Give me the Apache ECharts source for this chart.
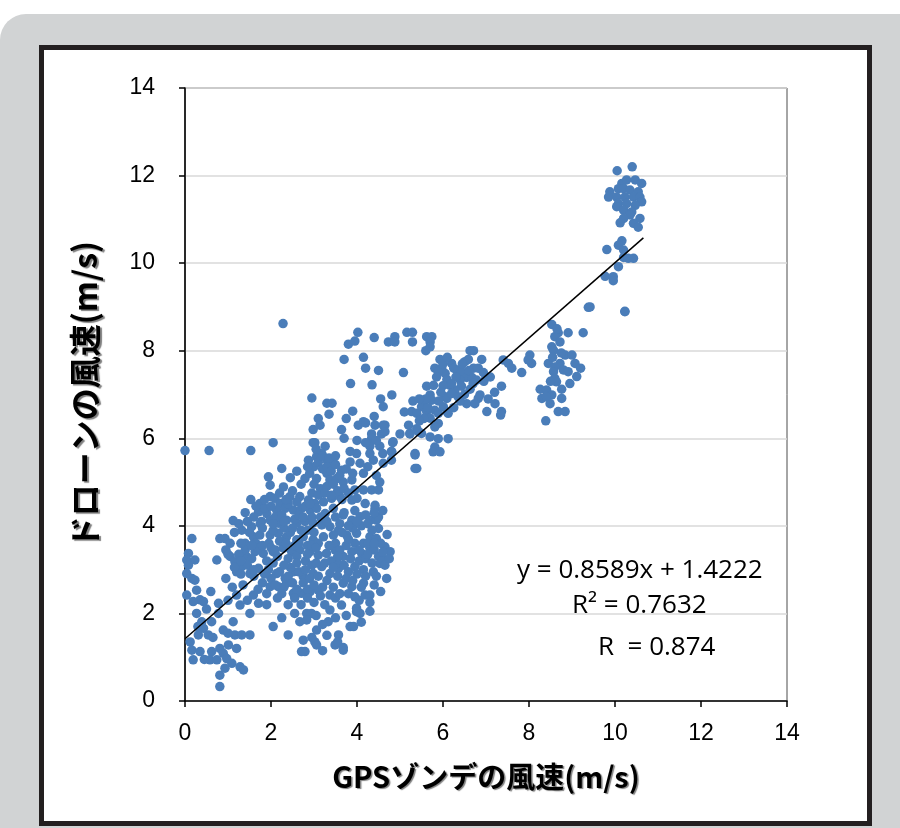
<!DOCTYPE html>
<html><head><meta charset="utf-8">
<script src="https://cdn.jsdelivr.net/npm/echarts@6/dist/echarts.min.js"></script>
<style>
html,body{margin:0;padding:0;width:900px;height:828px;background:#fff;overflow:hidden}
#bg{position:absolute;left:0;top:14px;width:930px;height:840px;background:#d1d3d4;border-radius:26px}
#panel{position:absolute;left:39px;top:45px;width:823px;height:771px;border:5px solid #231f20;background:#fff}
#chart{position:absolute;left:0;top:0;width:900px;height:828px}
</style></head>
<body><div id="bg"></div><div id="panel"></div><div id="chart"></div>
<script>
// axis ticks
const xMin = 0, xMax = 14, xStep = 2;
const yMin = 0, yMax = 14, yStep = 2;
const xTitle = 'GPSゾンデの風速(m/s)';
const yTitle = 'ドローンの風速(m/s)';
// regression
const slope = 0.8589, intercept = 1.4222, trendStartX = 0, trendEndX = 10.66;
const eqText = 'y = 0.8589x + 1.4222';
const r2Text = 'R² = 0.7632';
const rText = 'R  = 0.874';

// scatter values [GPS sonde, drone]
const lowCluster = [
[2.98,6.2],[3.14,6.3],[3.64,6.2],[4.03,6.3],[4.15,6.38],[4.42,6.3],[4.65,6.3],[4.34,6.1],[4.57,6.1],
[2.05,5.9],[2.98,5.9],[3.02,5.9],[5.23,6.1],[5.43,6.15],
[0,5.72],[0.56,5.72],[1.53,5.72],
[3.26,5.82],[3.84,5.7],[4.3,5.82],[4.53,5.82],[4.83,5.9],[4.8,5.7],[5.35,5.65],[4.34,6.0],
[2.87,5.5],[3.06,5.58],[3.18,5.65],[3.3,5.5],[3.45,5.43],[3.64,5.27],[3.84,5.46],[3.99,5.65],[4.07,5.43],[4.38,5.5],[4.61,5.43],[4.8,5.5],[5.35,5.31],[5.39,5.31],
[2.25,5.31],[1.94,5.12],[1.98,4.93],[2.29,4.89],[2.79,5.08],[3.06,5.08],[3.3,5.2],[3.37,5.05],[3.53,5.08],[3.68,5.0],[3.88,5.05],[3.95,4.82],[4.15,5.2],[4.15,4.82],[4.34,4.82],[4.5,4.82],[4.53,5.0],
[1.53,4.6],[1.74,4.51],[1.98,4.67],[2.09,4.63],[2.21,4.51],[2.44,4.67],[2.67,4.67],[2.87,4.59],[3.02,4.51],[3.22,4.55],[3.41,4.63],[3.6,4.67],[3.88,4.59],[4.0,4.63],[4.19,4.51],[4.42,4.4],[4.42,4.47],
[1.71,4.32],[1.9,4.28],[2.13,4.36],[2.33,4.4],[2.52,4.36],[2.71,4.4],[2.91,4.36],[3.06,4.4],[3.26,4.28],[3.45,4.4],[3.68,4.25],[3.88,4.13],[4.07,4.21],[4.3,4.13],[4.45,4.13],[4.5,3.94],
[1.12,4.12],[1.32,3.9],[1.55,3.98],[1.78,4.1],[1.98,4.13],[2.17,4.06],[2.36,4.13],[2.6,4.06],[2.79,4.1],[2.98,4.06],[3.18,4.02],[3.37,3.98],[3.57,3.9],
[0.16,3.71],[0.81,3.71],[0.93,3.71],[1.4,3.6],[1.59,3.75],[1.74,3.79],[1.98,3.79],[2.17,3.83],[2.36,3.75],[2.6,3.68],[2.75,3.75],[2.98,3.68],[3.22,3.75],[3.45,3.79],[3.76,3.79],[3.99,3.83],[4.15,3.6],[4.3,3.75],[4.45,3.71],
[0.08,3.37],[0.04,3.22],[0.23,3.22],[0.08,3.1],[0.74,3.22],[1.05,3.3],[1.16,3.18],[1.43,3.3],[1.63,3.41],[1.82,3.37],[2.05,3.41],[2.29,3.49],[2.48,3.41],[2.67,3.45],[2.91,3.41],[3.1,3.33],[3.29,3.37],[3.49,3.45],[3.68,3.3],[3.88,3.41],[4.11,3.37],[4.3,3.49],[4.5,3.3],[4.65,3.52],[4.77,3.41],
[0.04,2.91],[0.16,2.8],[0.23,2.76],[1.2,2.95],[1.32,3.07],[1.51,2.91],[1.71,3.03],[1.94,3.0],[2.13,2.91],[2.33,2.8],[2.52,2.95],[2.75,2.84],[2.98,2.91],[3.18,3.07],[3.37,2.91],[3.57,3.03],[3.95,3.07],[4.15,3.0],[4.38,2.95],[4.53,3.14],[4.61,3.22],
[0.27,2.53],[0.04,2.42],[0.35,2.31],[0.19,2.27],[0.43,2.27],[1.2,2.42],[1.59,2.42],[1.98,2.61],[2.17,2.61],[2.36,2.69],[2.52,2.46],[2.71,2.46],[2.91,2.5],[3.1,2.53],[3.37,2.42],[3.68,2.69],[3.88,2.61],[3.95,2.38],[4.15,2.69],[4.19,2.42],[4.3,2.42],[4.69,2.8],
[0.27,2.0],[0.78,2.23],[0.78,2.0],[1.28,2.19],[1.51,2.0],[1.71,2.23],[2.67,1.81],[2.83,2.0],[2.94,2.0],[3.37,2.08],[3.64,2.19],[3.99,2.12],[4.07,2.0],[3.99,2.04],
[0.39,1.81],[0.62,1.81],[0.43,1.66],[0.54,1.51],[1.12,1.81],[0.89,1.62],[1.16,1.51],[1.32,1.51],[1.51,1.51],[2.05,1.7],[2.4,1.51],[2.83,1.85],[3.06,1.62],[3.33,1.81],[3.57,1.51],[3.84,1.7],[3.92,1.7],
[0.12,1.35],[0.31,1.51],[0.16,1.16],[0.35,1.13],[0.19,0.94],[0.62,1.13],[0.81,1.2],[1.01,1.28],[0.89,1.09],[0.58,0.94],[0.74,0.94],[0.97,0.97],[1.09,0.86],[1.28,0.78],[1.36,0.71],[0.81,0.59],[0.93,0.75],[0.81,0.33],[2.75,1.39],[3.02,1.35],[3.06,1.28],[2.79,1.13],[2.71,1.13],[3.49,1.28],[3.68,1.16],[3.68,1.22]
];
const denseCore = [
[2.9,5.2],[3.0,5.35],[3.1,5.45],[3.2,5.3],[3.3,5.35],[3.4,5.25],[3.5,5.4],[3.6,5.15],[3.0,4.95],[3.15,4.85],[3.3,4.9],[3.45,4.95],[3.55,4.8],[3.7,4.85],[2.95,4.75],[3.1,4.7],[3.25,4.75],[3.4,4.7],[3.65,4.6],[3.8,4.75],[3.2,5.6],[3.35,5.55],[3.05,5.75],[3.5,5.6],
[1.6,4.2],[1.75,4.05],[1.85,4.4],[2.0,4.45],[2.1,4.2],[2.25,4.25],[2.4,4.5],[2.55,4.15],[2.65,4.25],[2.8,4.45],[2.95,4.2],[1.5,3.85],[1.65,3.6],[1.8,3.95],[1.95,3.6],[2.05,3.9],[2.2,3.65],[2.3,3.95],[2.45,3.85],[2.55,3.55],[2.7,3.9],[2.85,3.55],[3.0,3.85],[3.1,3.6],[1.4,3.45],[1.55,3.25],[1.7,3.5],[1.9,3.2],[2.0,3.5],[2.15,3.3],[2.4,3.25],[2.6,3.3],[2.8,3.2],[2.95,3.55],[1.3,3.6],[1.45,4.1],[1.25,3.35],[2.35,4.6],[2.6,4.55],[2.9,4.5],
[3.5,3.6],[3.6,3.45],[3.75,3.55],[3.85,3.25],[3.95,3.6],[4.05,3.2],[4.2,3.25],[4.25,3.6],[4.4,3.45],[4.55,3.6],[3.55,3.15],[3.7,3.1],[3.8,2.95],[4.0,2.9],[4.2,2.85],[4.35,3.15],[4.45,2.85],[3.65,3.85],[3.9,3.95],[4.1,4.0],[4.35,3.9],[4.2,4.25],[3.7,4.3],[3.95,4.35],[4.5,4.2],
[2.0,2.8],[2.1,2.65],[2.2,2.95],[2.3,2.6],[2.4,2.85],[2.5,2.7],[2.6,2.55],[2.65,2.95],[2.75,2.7],[2.85,2.55],[2.9,2.8],[3.0,2.65],[3.1,2.85],[3.2,2.6],[3.3,2.75],[3.45,2.6],[3.55,2.85],[2.25,2.45],[2.55,2.35],[2.85,2.35],[3.15,2.4],[3.5,2.35],[2.45,3.05],[2.95,3.1],[3.25,3.15],
[1.0,3.35],[1.15,3.05],[1.3,2.9],[1.45,3.1],[1.6,2.85],[1.8,2.7],[1.1,2.6],[1.35,2.65],[0.95,2.8],[1.7,2.55],[1.9,2.45]
];
const denseCore2 = [
[2.2,4.75],[2.5,4.8],[2.7,4.95],[2.6,5.25],[2.45,5.1],[2.85,5.35],[3.75,5.3],[3.9,5.2],[4.25,5.35],[4.45,5.15],[4.3,5.65],[4.45,5.95],[4.6,5.65],[4.2,5.9],[4.0,5.95],[3.7,6.0],
[1.85,4.6],[1.65,4.45],[1.4,4.3],[1.25,4.05],[1.15,3.85],[1.05,3.6],[0.95,3.45],
[2.05,4.05],[2.3,4.1],[2.5,3.95],[2.75,4.2],[2.85,3.9],[3.15,4.2],[3.3,4.1],[3.5,4.2],[3.6,4.05],[3.8,4.0],[4.0,4.1],[4.25,4.05],[4.4,4.3],[4.6,4.35],[4.7,3.8],[4.65,3.1],[4.75,3.25],
[1.8,3.55],[2.1,3.45],[2.35,3.6],[2.65,3.6],[2.85,3.35],[3.05,3.5],[3.35,3.55],[3.55,3.3],[3.4,3.2],[3.8,3.7],[4.05,3.45],[4.25,3.35],[4.4,3.6],[4.6,3.4],
[1.55,3.55],[1.3,3.2],[1.6,3.0],[1.85,2.9],[2.05,3.15],[2.3,3.1],[2.6,3.15],[2.8,3.0],[3.05,3.15],[3.45,3.05],[3.75,2.8],[3.9,2.75],[4.1,2.6],[4.4,2.65],[4.55,2.5],[4.3,2.25],
[2.15,2.35],[2.4,2.2],[2.7,2.2],[3.0,2.25],[3.25,2.2],[3.6,2.45],[3.8,2.45],[4.05,2.3],
[3.05,1.95],[3.2,1.75],[3.5,1.9],[3.75,1.95],[3.3,1.5],[2.95,1.45],[3.2,1.15],[3.55,1.35],[4.1,1.8],[4.3,2.05],
[2.25,1.9],[2.55,2.0],[1.9,2.2],[1.45,2.3],[1.0,2.3],[0.6,2.5],[0.5,2.1],[0.3,1.7],[0.65,1.45],[1.0,1.55],[1.2,1.2],[0.45,0.95]
];
const midCluster = [
[2.95,6.92],[3.3,6.8],[3.42,6.8],[3.35,6.55],[3.1,6.45],[3.75,6.45],[3.9,6.62],[4.2,6.35],[4.4,6.5],[4.55,6.9],[3.85,7.25],[4.35,7.22],[4.2,7.6],[3.7,7.8],[3.8,8.15],[3.95,8.22],[4.02,8.42],[4.15,7.85],[4.5,7.55],[4.4,8.3],[2.28,8.62],
[4.73,8.2],[4.88,8.32],[4.88,8.2],[5.16,8.42],[5.29,8.42],[5.29,8.2],[5.62,8.32],[5.74,8.32],[5.7,8.2],[5.7,8.09],[5.6,8.0],[6.63,8.0],[6.71,8.0],
[5.93,7.8],[6.2,7.71],[5.81,7.6],[5.97,7.6],[6.05,7.48],[5.89,7.52],[6.09,7.34],[6.16,7.21],[6.32,7.56],[6.43,7.52],[6.51,7.75],[6.59,7.8],[6.71,7.6],[6.82,7.6],[6.9,7.8],[6.94,7.5],[6.55,7.39],[6.67,7.39],[6.78,7.33],[6.4,7.33],[6.43,7.19],[6.28,7.1],[6.63,7.12],[6.86,6.99],[6.82,6.91],[6.55,6.79],[6.74,6.79],[6.09,6.91],[6.05,6.95],[6.2,7.02],
[5.62,7.19],[5.78,7.21],[5.7,6.99],[5.74,6.87],[5.54,6.79],[5.5,6.72],[5.27,6.61],[5.39,6.57],[5.62,6.61],[5.81,6.64],[6.01,6.72],[6.12,6.57],[5.89,6.57],[5.7,6.46],[5.89,6.34],[5.81,6.26],[5.39,6.22],[5.23,6.11],[5.5,6.11],[5.7,6.03],[5.89,5.99],[6.12,5.99],[5.81,5.8],[5.77,5.69],[5.93,5.69],[5.35,5.62],
[4.61,6.72],[4.81,6.99],[5.08,7.5],[4.61,6.3],[4.65,6.15],[4.84,5.92],[4.81,5.69],
[5.85,7.4],[6.0,7.7],[6.3,7.4],[6.1,6.6],[5.9,6.85],[6.35,6.95],[6.6,7.55],[5.65,6.7],[5.55,6.45],[6.2,7.25],
[6.0,7.2],[6.25,7.6],[6.45,7.7],[6.7,7.25],[6.95,7.3],[6.5,7.0],[5.95,7.05],[6.1,7.85],[6.4,6.85],[5.6,6.9],[5.45,6.4],[6.25,6.7],[7.1,7.4],[7.2,7.05],[7.05,6.9],
[5.1,6.6],[5.3,6.85],[5.45,6.9],[5.2,6.3],[5.0,6.1],
[7.4,7.79],[7.52,7.71],[7.6,7.6],[7.36,7.19],[7.21,6.79],[7.36,6.61],[7.34,6.53],[7.02,6.61]
];
const highCluster = [
[9.38,8.99],[10.23,8.9],[8.53,8.6],[8.68,8.41],[8.91,8.41],[9.26,8.41],[8.6,8.32],[8.72,8.2],[8.53,8.09],[8.57,8.01],[8.45,7.71],[8.84,7.9],[9.0,7.9],[9.07,7.71],[8.6,7.63],[8.72,7.71],[8.57,7.52],[8.8,7.56],[8.91,7.52],[9.11,7.41],[8.6,7.37],[8.64,7.29],[8.26,7.12],[8.41,7.1],[8.53,6.99],[8.76,7.12],[8.3,6.91],[8.76,6.91],[8.49,6.79],[8.68,6.61],[8.84,6.61],[8.39,6.4],
[8.02,7.9],[8.06,7.71],[7.83,7.5],[7.98,7.79],
[8.65,8.5],[8.75,7.95],[8.5,7.3],[8.95,7.25],[8.4,6.95],[8.55,7.85],[9.2,7.6]
];
const topCluster = [
[10.05,12.11],[10.4,12.2],[10.16,11.82],[10.27,11.9],[10.47,11.9],[10.62,11.82],[9.88,11.63],[9.85,11.51],[10.08,11.7],[10.2,11.7],[10.35,11.67],[10.54,11.63],[10.04,11.51],[10.23,11.51],[10.43,11.51],[10.58,11.51],[10.62,11.4],[10.08,11.36],[10.27,11.36],[10.47,11.32],[10.04,11.29],[10.2,11.21],[10.39,11.17],[10.35,11.1],[10.2,11.02],[10.58,11.02],[10.12,10.92],[10.43,10.91],[10.54,10.82],[10.16,10.51],[10.08,10.41],[9.81,10.31],[10.2,10.3],[10.2,10.13],[10.31,10.11],[10.43,10.11],[10.08,9.92],[9.77,9.7],[9.96,9.69],[9.96,9.6],[9.42,9.0],[10.23,8.89]
];

const points = [].concat(lowCluster, denseCore, denseCore2, midCluster, highCluster, topCluster);
const trend = [[trendStartX, intercept + slope*trendStartX],[trendEndX, intercept + slope*trendEndX]];

const tickFont = {fontFamily:"'Liberation Sans',Arial,sans-serif", fontSize:23, color:'#000'};
const shadow = {textShadowColor:'rgba(0,0,0,0.5)', textShadowOffsetX:1.5, textShadowOffsetY:1.5, textShadowBlur:1};
const xTitleStyle = Object.assign({fontFamily:"'Noto Sans CJK JP',sans-serif", fontSize:29, fontWeight:'bold', color:'#000'}, shadow);
const yTitleStyle = Object.assign({fontFamily:"'Noto Sans CJK JP',sans-serif", fontSize:32, fontWeight:'bold', color:'#000'}, shadow);
const eqFont = "26px 'Open Sans', sans-serif";

const chart = echarts.init(document.getElementById('chart'), null, {renderer:'canvas'});
chart.setOption({
  backgroundColor:'transparent',
  animation:false,
  grid:{left:185, top:88, right:113, bottom:127, show:true, borderColor:'#4d4d4d', borderWidth:1, backgroundColor:'transparent'},
  xAxis:{type:'value', min:xMin, max:xMax, interval:xStep,
    name:xTitle, nameLocation:'middle', nameGap:61, nameTextStyle:xTitleStyle,
    axisLine:{show:true, lineStyle:{color:'#000', width:1.5}},
    axisTick:{show:true, inside:false, length:6, lineStyle:{color:'#000', width:1.5}},
    axisLabel:Object.assign({margin:21}, tickFont),
    splitLine:{show:false}},
  yAxis:{type:'value', min:yMin, max:yMax, interval:yStep,
    name:yTitle, nameLocation:'middle', nameGap:84, nameTextStyle:yTitleStyle,
    axisLine:{show:true, lineStyle:{color:'#000', width:1.5}},
    axisTick:{show:true, inside:false, length:6, lineStyle:{color:'#000', width:1.5}},
    axisLabel:Object.assign({margin:30}, tickFont),
    splitLine:{show:true, lineStyle:{color:'#d9d9d9', width:1.5}}},
  graphic:[
    {type:'text', left:517, top:558, style:{text:eqText, font:eqFont, fill:'#000'}},
    {type:'text', left:572, top:593, style:{text:r2Text, font:eqFont, fill:'#000'}},
    {type:'text', left:598, top:635, style:{text:rText, font:eqFont, fill:'#000'}}
  ],
  series:[
    {type:'scatter', data:points, symbol:'circle', symbolSize:9.5, itemStyle:{color:'#4a7db9', opacity:1}, z:2},
    {type:'line', data:trend, symbol:'none', lineStyle:{color:'#000', width:1.5}, z:3, silent:true}
  ]
});
</script></body></html>
